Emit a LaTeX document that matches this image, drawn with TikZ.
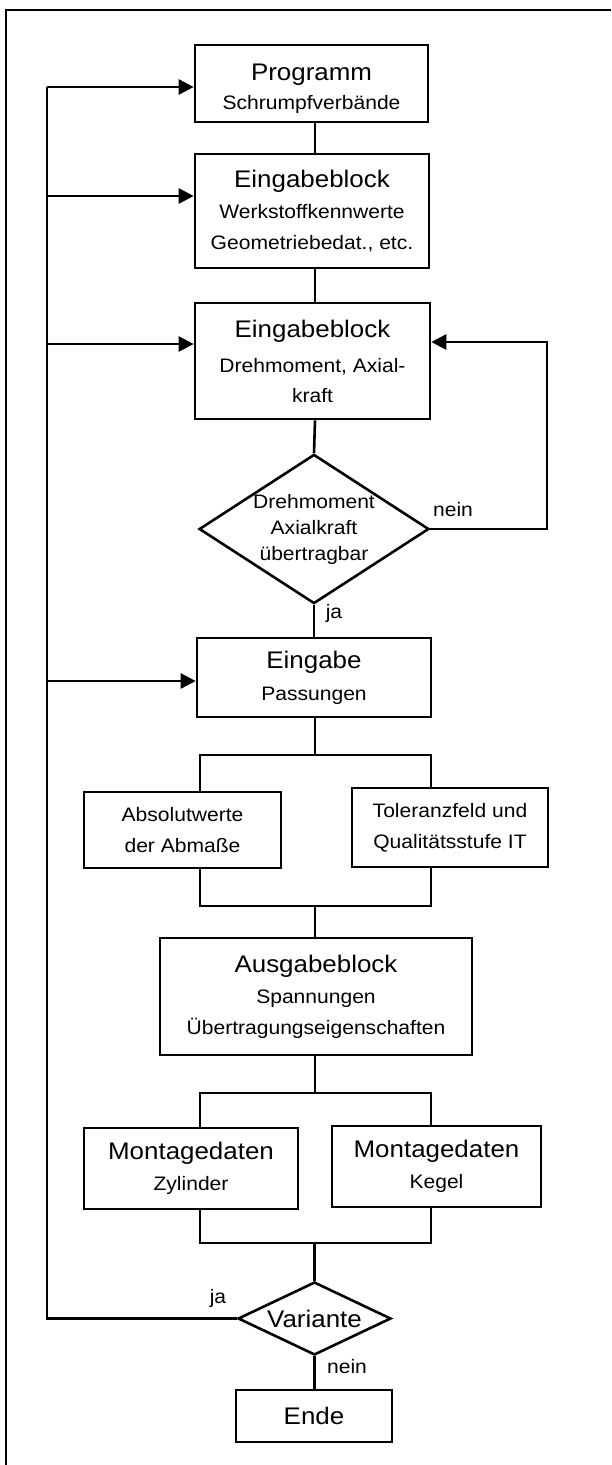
\documentclass[tikz,border=0pt]{standalone}
\usepackage{fontspec}
\setmainfont[FakeStretch=1.08]{Liberation Sans}
\usetikzlibrary{arrows.meta,shapes.geometric}
\newcommand\headfont{\fontsize{24}{24}\selectfont}
\newcommand\subfont{\fontsize{19.5}{31}\selectfont}
\begin{document}
\begin{tikzpicture}[x=1pt,y=-1pt,
  every node/.style={inner sep=0pt, font=\subfont},
  box/.style={draw, line width=2.6pt, rectangle, align=center},
  rhomb/.style={draw, line width=2.6pt, diamond, align=center},
  conn/.style={line width=2.6pt},
  arr/.style={line width=2.6pt, -{Triangle[length=15pt,width=15pt]}},
  lbl/.style={font=\subfont}]
\useasboundingbox (0,0) rectangle (611,1465);

% page frame
\draw[line width=2.2pt] (6,1465) -- (6,10) -- (611,10);

% main column
\node[box, minimum width=233pt, minimum height=77pt] (prog) at (311.5,83.5)
  {{\headfont\rule{0pt}{27pt}Programm}\\[-2pt] Schrumpfverbände};
\node[box, minimum width=234pt, minimum height=114pt] (ein1) at (312,211)
  {{\headfont Eingabeblock}\\ Werkstoffkennwerte\\ Geometriebedat., etc.};
\node[box, minimum width=235pt, minimum height=116pt] (ein2) at (312.5,361)
  {{\headfont Eingabeblock}\\[4pt] Drehmoment, Axial-\\[-1pt] kraft};
\node[rhomb, minimum width=228pt, minimum height=148pt, shape aspect=1.54,
      font=\fontsize{19.5}{26}\selectfont] (dia) at (314,529)
  {Drehmoment\\ Axialkraft\\ übertragbar};
\node[box, minimum width=234pt, minimum height=79pt] (ein3) at (314,677.5)
  {{\headfont Eingabe}\\[1pt] Passungen};
\node[box, minimum width=197pt, minimum height=76pt] (abs) at (182.5,830)
  {Absolutwerte\\ der Abmaße};
\node[box, minimum width=196pt, minimum height=79pt] (tol) at (450,827.5)
  {Toleranzfeld und\\ Qualitätsstufe IT};
\node[box, minimum width=312pt, minimum height=117pt] (aus) at (316,996.5)
  {{\headfont Ausgabeblock}\\ Spannungen\\ Übertragungseigenschaften};
\node[box, minimum width=214pt, minimum height=81pt] (zyl) at (191,1168.5)
  {{\headfont Montagedaten}\\ Zylinder};
\node[box, minimum width=209pt, minimum height=81pt] (keg) at (436.5,1166.5)
  {{\headfont Montagedaten}\\ Kegel};
\node[rhomb, minimum width=153pt, minimum height=73pt, shape aspect=2.1] (var) at (314.5,1318.5)
  {\headfont Variante};
\node[box, minimum width=156pt, minimum height=52pt] (ende) at (314,1416)
  {\headfont Ende};

% trunk, branch and join coordinates
\coordinate (trunk) at (315,0);
\coordinate (s1l) at (200,755);  \coordinate (s1r) at (431,755);
\coordinate (j1l) at (200,906);  \coordinate (j1r) at (431,906);
\coordinate (s2l) at (200,1093); \coordinate (s2r) at (431,1093);
\coordinate (j2l) at (200,1243); \coordinate (j2r) at (431,1243);

% straight flow
\draw[conn] (prog.south -| trunk) -- (ein1.north -| trunk);
\draw[conn] (ein1.south -| trunk) -- (ein2.north -| trunk);
\draw[conn] (ein2.south -| trunk) -- (dia.north);
\draw[conn] (dia.south) -- (ein3.north -| dia.south);
\draw[conn] (ein3.south -| trunk) -- (s1l -| trunk);
\draw[conn] (abs.north -| s1l) -- (s1l) -- (s1r) -- (tol.north -| s1r);
\draw[conn] (abs.south -| j1l) -- (j1l) -- (j1r) -- (tol.south -| j1r);
\draw[conn] (j1l -| trunk) -- (aus.north -| trunk);
\draw[conn] (aus.south -| trunk) -- (s2l -| trunk);
\draw[conn] (zyl.north -| s2l) -- (s2l) -- (s2r) -- (keg.north -| s2r);
\draw[conn] (zyl.south -| j2l) -- (j2l) -- (j2r) -- (keg.south -| j2r);
\draw[conn] (j2l -| var.north) -- (var.north);
\draw[conn] (var.south) -- (ende.north -| var.south);

% "nein" loop back to the torque input
\coordinate (loop) at (547,342);
\draw[arr] (dia.east) -- (dia.east -| loop) -- (loop) -- (loop -| ein2.east);

% "ja" feedback line on the left
\coordinate (fb) at (47,87);
\coordinate (fb1) at (47,196);
\coordinate (fb2) at (47,344);
\coordinate (fb3) at (47,681);
\draw[conn] (var.west) -- (var.west -| fb) -- (fb);
\draw[arr] (fb) -- (fb -| prog.west);
\draw[arr] (fb1) -- (fb1 -| ein1.west);
\draw[arr] (fb2) -- (fb2 -| ein2.west);
\draw[arr] (fb3) -- (fb3 -| ein3.west);

% branch labels
\node[lbl] (l1) at (453,510) {nein};
\node[lbl] (l2) at (334,613) {ja};
\node[lbl] (l3) at (218,1298) {ja};
\node[lbl] (l4) at (347,1367) {nein};
\end{tikzpicture}
\end{document}
